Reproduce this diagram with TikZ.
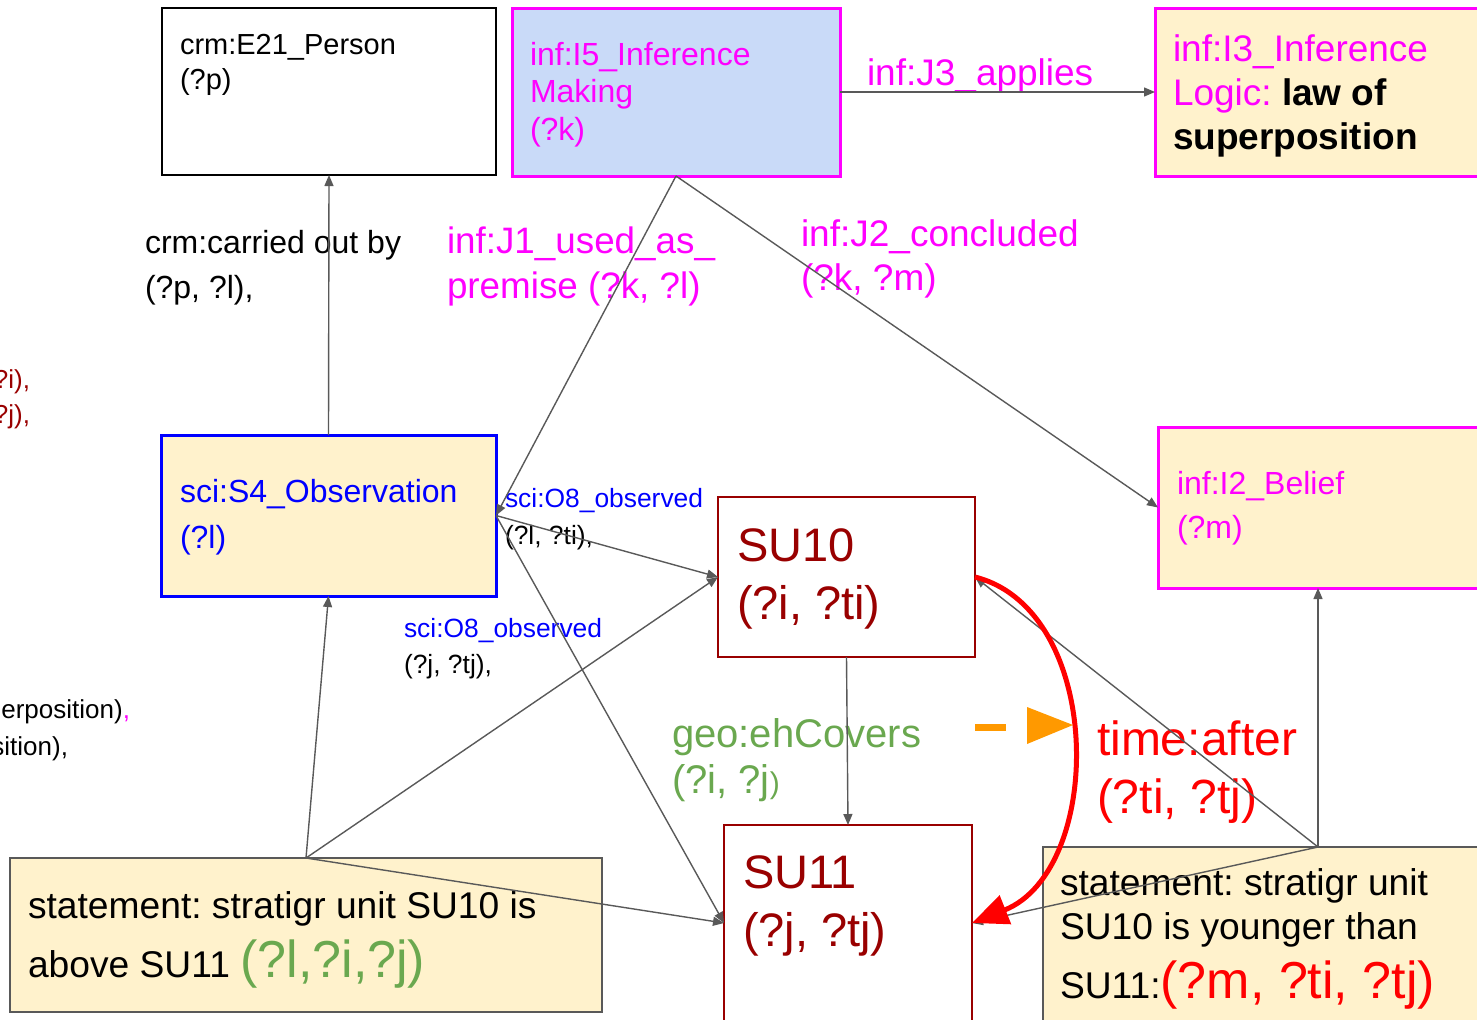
\documentclass[tikz,border=0pt]{standalone}
\usepackage{fontspec}
\setmainfont{Liberation Sans}
\usetikzlibrary{arrows.meta}
\definecolor{cgray}{HTML}{595959}
\definecolor{lyel}{HTML}{FFF2CC}
\definecolor{lblue}{HTML}{C9DAF8}
\definecolor{mag}{HTML}{FF00FF}
\definecolor{dred}{HTML}{990000}
\definecolor{ggreen}{HTML}{6AA84F}
\definecolor{orangeA}{HTML}{FF9900}
\definecolor{pureblue}{HTML}{0000FF}
\definecolor{purered}{HTML}{FF0000}
\frenchspacing
\begin{document}
\begin{tikzpicture}[x=0.5pt,y=-0.5pt,
  box/.style={rectangle, inner sep=0pt, outer sep=0pt},
  magbox/.style={box, draw=mag, line width=1.5pt},
  thinbox/.style={box, line width=0.75pt},
  txt/.style={anchor=base west, inner sep=0pt, outer sep=0pt},
  txtr/.style={anchor=base east, inner sep=0pt, outer sep=0pt},
  conn/.style={draw=cgray, line width=0.7pt, -{Triangle[length=5.5pt,width=4.5pt]}},
]
\useasboundingbox (0,0) rectangle (1477,1019);
\clip (0,0) rectangle (1477,1019);

% boxes
\node[thinbox, draw=black, fill=white, minimum width=167pt, minimum height=83.5pt] (person) at (329,91.5) {};
\node[magbox, fill=lblue, minimum width=164pt, minimum height=84pt] (i5) at (676,92) {};
\node[magbox, fill=lyel, minimum width=172.5pt, minimum height=84pt] (i3) at (1327.5,92) {};
\node[box, draw=pureblue, line width=1.5pt, fill=lyel, minimum width=167.5pt, minimum height=80.5pt] (obs) at (328.5,515.5) {};
\node[magbox, fill=lyel, minimum width=160pt, minimum height=80.5pt] (i2) at (1318,507.5) {};
\node[thinbox, draw=dred, fill=white, minimum width=128.5pt, minimum height=80pt] (su10) at (846.5,577) {};
\node[thinbox, draw=dred, fill=white, minimum width=124pt, minimum height=98pt] (su11) at (848,923) {};
\node[thinbox, draw=cgray, fill=lyel, minimum width=296pt, minimum height=77pt] (stl) at (306,935) {};
\node[thinbox, draw=cgray, fill=lyel, minimum width=275pt, minimum height=91.5pt] (str) at (1318,938.5) {};

% box texts
\node[txt, font=\fontsize{14.5}{17.5}\selectfont] (tperson) at (180,54) {\vtop{\hbox{crm:E21\_Person}\hbox{(?p)}}};
\node[txt, text=mag, font=\fontsize{16}{18.75}\selectfont] (ti5) at (530,65) {\vtop{\hbox{inf:I5\_Inference}\hbox{Making}\hbox{(?k)}}};
\node[txt, text=mag, font=\fontsize{18.5}{22}\selectfont] (ti3) at (1173,61) {\vtop{\hbox{inf:I3\_Inference}\hbox{Logic: \textcolor{black}{\bfseries law of}}\hbox{\textcolor{black}{\bfseries superposition}}}};
\node[txt, text=pureblue, font=\fontsize{16}{23}\selectfont] (tobs) at (180,502) {\vtop{\hbox{sci:S4\_Observation}\hbox{(?l)}}};
\node[txt, text=mag, font=\fontsize{16}{22}\selectfont] (ti2) at (1177,494) {\vtop{\hbox{inf:I2\_Belief}\hbox{(?m)}}};
\node[txt, text=dred, font=\fontsize{23.5}{29}\selectfont] (tsu10) at (737,561) {\vtop{\hbox{SU10}\hbox{(?i, ?ti)}}};
\node[txt, text=dred, font=\fontsize{23.5}{29}\selectfont] (tsu11) at (743,888) {\vtop{\hbox{SU11}\hbox{(?j, ?tj)}}};
\node[txt, font=\fontsize{18.6}{29.5}\selectfont] (tstl) at (28,918) {\vtop{\hbox{statement: stratigr unit SU10 is}\hbox{above SU11 \textcolor{ggreen}{\fontsize{26}{26}\selectfont (?l,?i,?j)}}}};
\node[txt, font=\fontsize{18.6}{22}\selectfont] (tstr) at (1060,895) {\vtop{\hbox{statement: stratigr unit}\hbox{SU10 is younger than}\vskip 6pt\hbox{SU11:\textcolor{purered}{\fontsize{26}{26}\selectfont(?m, ?ti, ?tj)}}}};

% edge labels
\node[txt, text=mag, font=\fontsize{18.5}{22}\selectfont] (lj3) at (867,85) {inf:J3\_applies};
\node[txt, font=\fontsize{16}{22.5}\selectfont] (lcarried) at (145,253) {\vtop{\hbox{crm:carried out by}\hbox{(?p, ?l),}}};
\node[txt, text=mag, font=\fontsize{18.4}{22.5}\selectfont] (lj1) at (447,253) {\vtop{\hbox{inf:J1\_used\_as\_}\hbox{premise (?k, ?l)}}};
\node[txt, text=mag, font=\fontsize{18.5}{22}\selectfont] (lj2) at (801,246) {\vtop{\hbox{inf:J2\_concluded}\hbox{(?k, ?m)}}};
\node[txt, font=\fontsize{13.2}{18.5}\selectfont] (lo8a) at (505,507) {\vtop{\hbox{\textcolor{pureblue}{sci:O8\_observed}}\hbox{(?l, ?ti),}}};
\node[txt, font=\fontsize{13.2}{18}\selectfont] (lo8b) at (404,637) {\vtop{\hbox{\textcolor{pureblue}{sci:O8\_observed}}\hbox{(?j, ?tj),}}};
\node[txt, text=ggreen, font=\fontsize{20}{23}\selectfont] (lgeo) at (672,747) {\vtop{\hbox{geo:ehCovers}\hbox{(?i, ?j{\fontsize{15}{15}\selectfont)}}}};
\node[txt, text=purered, font=\fontsize{24}{29}\selectfont] (ltime) at (1097,755) {\vtop{\hbox{time:after}\hbox{(?ti, ?tj)}}};

% clipped texts at left edge
\node[txtr, text=dred, font=\fontsize{13}{13}\selectfont] (cl1) at (30,388) {?i),};
\node[txtr, text=dred, font=\fontsize{13}{13}\selectfont] (cl2) at (30,423) {?j),};
\node[txtr, font=\fontsize{13}{13}\selectfont] (cl3) at (130,718) {erposition)\textcolor{mag}{,}};
\node[txtr, font=\fontsize{13}{13}\selectfont] (cl4) at (68,755) {sition),};

% connectors
\draw[conn] (obs.north) -- (person.south);
\draw[conn] (i5.east) -- (i3.west);
\draw[conn] (i5.south) -- (obs.east);
\draw[conn] (i5.south) -- (i2.west);
\draw[conn] (obs.east) -- (su10.west);
\draw[conn] (obs.east) -- (su11.west);
\draw[conn] (stl.north) -- (obs.south);
\draw[conn] (stl.north) -- (su10.west);
\draw[conn] (stl.north) -- (su11.west);
\draw[conn] (su10.south) -- (su11.north);
\draw[conn] (str.north) -- (su10.east);
\draw[conn] (str.north) -- (su11.east);
\draw[conn] (str.north) -- (i2.south);

% red curved arrow
\draw[purered, line width=2.5pt, -{Triangle[length=18pt,width=15pt]}] (su10.east) .. controls (1105,610) and (1105,870) .. (su11.east);

% orange marker
\draw[orangeA, line width=3.5pt] (975,727) -- (1006,727);
\fill[orangeA] (1027,707) -- (1073,725) -- (1027,744) -- cycle;
\end{tikzpicture}
\end{document}
